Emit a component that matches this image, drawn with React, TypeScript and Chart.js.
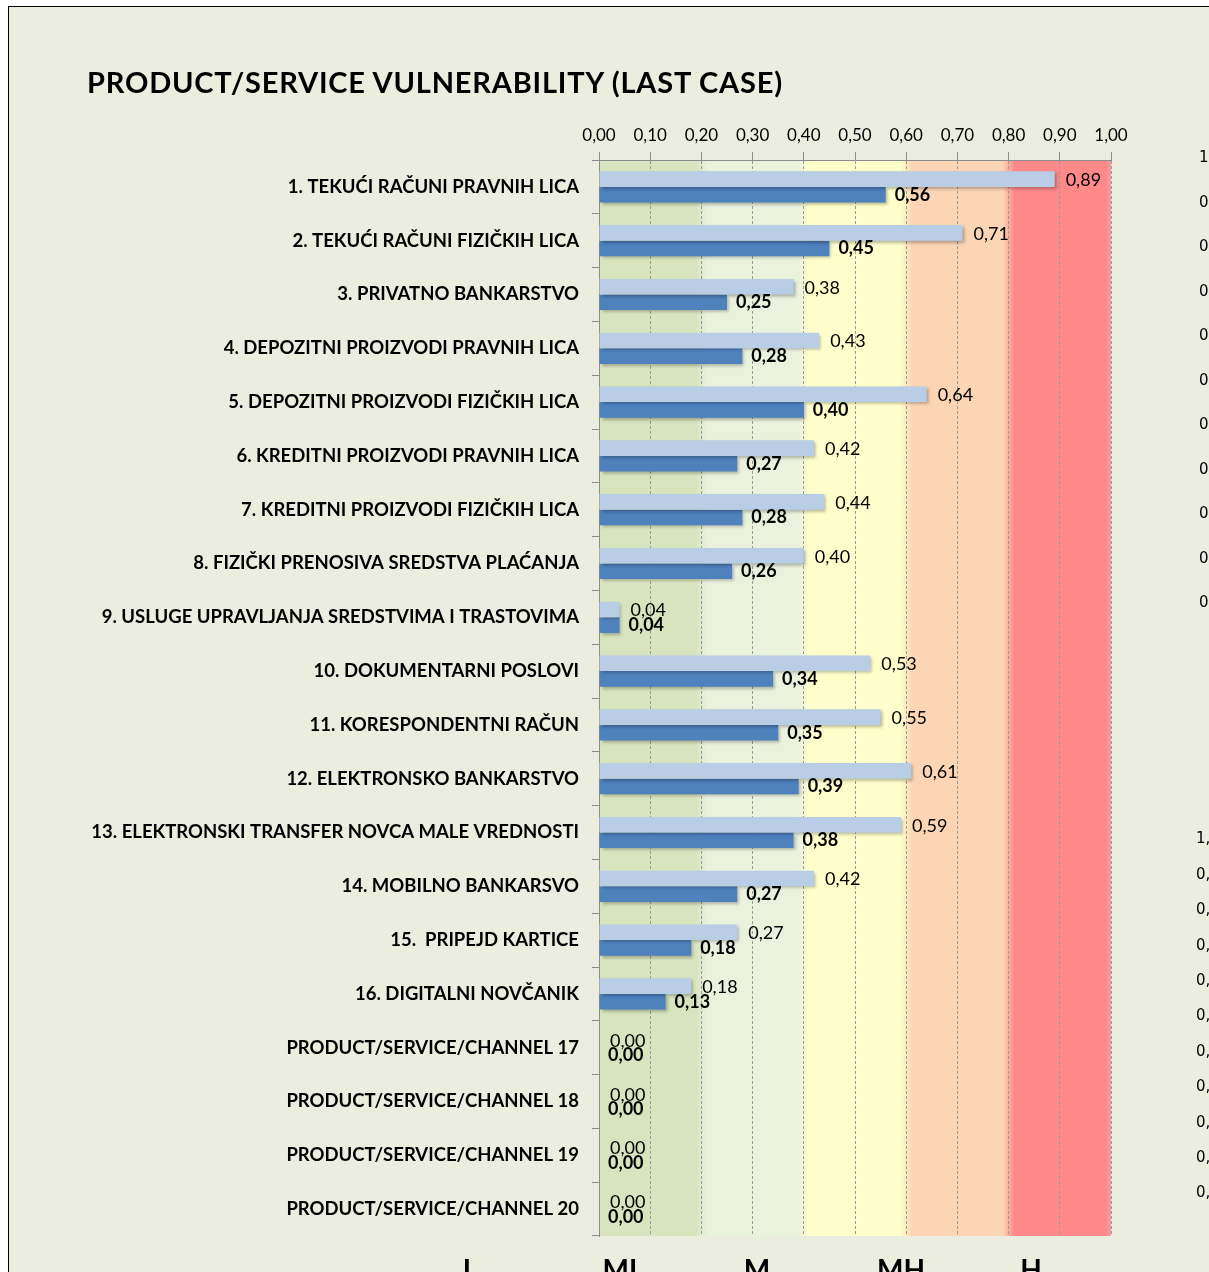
import React, { useEffect, useRef } from "react";
import { Chart, registerables } from "chart.js";

Chart.register(...registerables);

const W = 1209;
const H = 1272;

const titleText = "PRODUCT/SERVICE VULNERABILITY (LAST CASE)";

const categories = [
  "1. TEKUĆI RAČUNI PRAVNIH LICA",
  "2. TEKUĆI RAČUNI FIZIČKIH LICA",
  "3. PRIVATNO BANKARSTVO",
  "4. DEPOZITNI PROIZVODI PRAVNIH LICA",
  "5. DEPOZITNI PROIZVODI FIZIČKIH LICA",
  "6. KREDITNI PROIZVODI PRAVNIH LICA",
  "7. KREDITNI PROIZVODI FIZIČKIH LICA",
  "8. FIZIČKI PRENOSIVA SREDSTVA PLAĆANJA",
  "9. USLUGE UPRAVLJANJA SREDSTVIMA I TRASTOVIMA",
  "10. DOKUMENTARNI POSLOVI",
  "11. KORESPONDENTNI RAČUN",
  "12. ELEKTRONSKO BANKARSTVO",
  "13. ELEKTRONSKI TRANSFER NOVCA MALE VREDNOSTI",
  "14. MOBILNO BANKARSVO",
  "15.  PRIPEJD KARTICE",
  "16. DIGITALNI NOVČANIK",
  "PRODUCT/SERVICE/CHANNEL 17",
  "PRODUCT/SERVICE/CHANNEL 18",
  "PRODUCT/SERVICE/CHANNEL 19",
  "PRODUCT/SERVICE/CHANNEL 20",
];

const lastCaseValues = [
  0.89, 0.71, 0.38, 0.43, 0.64, 0.42, 0.44, 0.4, 0.04, 0.53, 0.55, 0.61, 0.59,
  0.42, 0.27, 0.18, 0, 0, 0, 0,
];

const residualValues = [
  0.56, 0.45, 0.25, 0.28, 0.4, 0.27, 0.28, 0.26, 0.04, 0.34, 0.35, 0.39, 0.38,
  0.27, 0.18, 0.13, 0, 0, 0, 0,
];

const bandEdges = [0, 0.2, 0.4, 0.6, 0.8, 1.0];
const bandColors = ["#D7E4BD", "#EAF1DD", "#FFFFCC", "#FCD5B5", "#FF8888"];
const bandLabels = ["L", "ML", "M", "MH", "H"];
const bandLabelCenters = [470, 623, 757, 901, 1031];

const rightUpperTicks = ["1,00", "0,90", "0,80", "0,70", "0,60", "0,50", "0,40", "0,30", "0,20", "0,10", "0,00"];
const rightLowerTicks = ["1,00", "0,90", "0,80", "0,70", "0,60", "0,50", "0,40", "0,30", "0,20", "0,10", "0,00"];

const BG = "#EBEEDF";
const LIGHT = "#B9CDE5";
const DARK = "#4F81BD";
const AXIS = "#8C8C8C";

const fmt = (v: number) => v.toFixed(2).replace(".", ",");

const decorPlugin = {
  id: "decor",
  beforeDraw(chart: any) {
    const { ctx, chartArea, scales } = chart;
    const xs = scales.x;
    const top = chartArea.top;
    const h = chartArea.bottom - chartArea.top;
    ctx.save();
    const px = bandEdges.map((e) => xs.getPixelForValue(e));
    for (let i = 0; i < bandColors.length; i++) {
      ctx.fillStyle = bandColors[i];
      ctx.fillRect(px[i], top, px[i + 1] - px[i], h);
    }
    for (let i = 1; i < bandColors.length; i++) {
      const xb = px[i];
      const g = ctx.createLinearGradient(xb - 6, 0, xb + 6, 0);
      g.addColorStop(0, bandColors[i - 1]);
      g.addColorStop(1, bandColors[i]);
      ctx.fillStyle = g;
      ctx.fillRect(xb - 6, top, 12, h);
    }
    const xe = px[px.length - 1];
    const g2 = ctx.createLinearGradient(xe - 6, 0, xe, 0);
    g2.addColorStop(0, "#FF8888");
    g2.addColorStop(1, "#E8A2A8");
    ctx.fillStyle = g2;
    ctx.fillRect(xe - 6, top, 6, h);
    ctx.restore();
  },
  beforeDatasetsDraw(chart: any) {
    const ctx = chart.ctx;
    ctx.save();
    ctx.shadowColor = "rgba(0,0,0,0.28)";
    ctx.shadowBlur = 3;
    ctx.shadowOffsetX = 2;
    ctx.shadowOffsetY = 2;
  },
  afterDatasetsDraw(chart: any) {
    const ctx = chart.ctx;
    ctx.restore();
    ctx.save();
    chart.data.datasets.forEach((ds: any, di: number) => {
      const meta = chart.getDatasetMeta(di);
      meta.data.forEach((el: any, i: number) => {
        const v = ds.data[i] as number;
        const { x, y } = el.getProps(["x", "y"], true);
        ctx.font = di === 0 ? "18px Lato" : "bold 18px Lato";
        ctx.textBaseline = "middle";
        ctx.textAlign = "left";
        ctx.fillStyle = "#000";
        ctx.fillText(fmt(v), x + (di === 0 ? 11 : 9), y + (di === 0 ? 1 : 0));
      });
    });
    ctx.restore();
  },
};

export default function App() {
  const ref = useRef<HTMLCanvasElement>(null);

  useEffect(() => {
    if (!ref.current) return;
    const chart = new Chart(ref.current, {
      type: "bar",
      data: {
        labels: categories,
        datasets: [
          {
            label: "Last case",
            data: lastCaseValues,
            backgroundColor: LIGHT,
            borderWidth: 0,
          },
          {
            label: "Residual",
            data: residualValues,
            backgroundColor: DARK,
            borderWidth: 0,
          },
        ],
      },
      options: {
        animation: false,
        responsive: false,
        devicePixelRatio: 1,
        indexAxis: "y",
        layout: { padding: { left: 0, right: 98, top: 100, bottom: 36 } },
        datasets: { bar: { categoryPercentage: 0.58, barPercentage: 1 } },
        plugins: {
          legend: { display: false },
          tooltip: { enabled: false },
          title: { display: false },
        },
        scales: {
          x: {
            type: "linear",
            position: "top",
            min: 0,
            max: 1,
            afterFit: (s: any) => {
              s.height = 60;
            },
            ticks: {
              stepSize: 0.1,
              autoSkip: false,
              maxRotation: 0,
              padding: 6,
              color: "#000",
              font: { family: "Lato", size: 17 },
              callback: (v: any) => fmt(Number(v)),
            },
            grid: {
              color: "#9A9A9A",
              lineWidth: 1,
              tickLength: 8,
              tickColor: AXIS,
              drawTicks: true,
            },
            border: { display: true, color: AXIS, width: 1, dash: [3, 2] },
          },
          y: {
            type: "category",
            afterFit: (s: any) => {
              s.width = 599;
            },
            ticks: {
              autoSkip: false,
              padding: 13,
              color: "#000",
              font: { family: "Lato", size: 18.5, weight: "bold" },
            },
            grid: {
              drawOnChartArea: false,
              offset: true,
              tickLength: 7,
              tickColor: AXIS,
            },
            border: { display: true, color: AXIS, width: 1 },
          },
        },
      } as any,
      plugins: [decorPlugin],
    });
    return () => chart.destroy();
  }, []);

  return (
    <div
      style={{
        position: "absolute",
        left: 0,
        top: 0,
        width: W,
        height: H,
        overflow: "hidden",
        background: "#fff",
      }}
    >
      <div
        style={{
          position: "absolute",
          left: 8,
          top: 6,
          width: W + 50,
          height: H + 50,
          border: "1px solid #000",
          background: BG,
        }}
      />
      <canvas
        ref={ref}
        width={W}
        height={H}
        style={{ position: "absolute", left: 0, top: 0, width: W, height: H }}
      />
      <div
        style={{
          position: "absolute",
          left: 87,
          top: 67,
          font: "bold 29px Lato",
          lineHeight: "29px",
          letterSpacing: "0.8px",
          whiteSpace: "nowrap",
          color: "#000",
        }}
      >
        {titleText}
      </div>
      {bandLabels.map((t, i) => (
        <div
          key={t}
          style={{
            position: "absolute",
            left: bandLabelCenters[i] - 50,
            width: 100,
            top: 1255,
            textAlign: "center",
            font: "bold 28px Lato",
            lineHeight: "28px",
            color: "#000",
          }}
        >
          {t}
        </div>
      ))}
      {rightUpperTicks.map((t, i) => (
        <div
          key={"u" + i}
          style={{
            position: "absolute",
            left: 1199,
            top: 157.5 + i * 44.5 - 7.2,
            font: "15px 'DejaVu Sans'",
            lineHeight: "15px",
            whiteSpace: "nowrap",
            color: "#000",
          }}
        >
          {t}
        </div>
      ))}
      {rightLowerTicks.map((t, i) => (
        <div
          key={"l" + i}
          style={{
            position: "absolute",
            left: 1196,
            top: 838.5 + i * 35.4 - 7.2,
            font: "15px 'DejaVu Sans'",
            lineHeight: "15px",
            whiteSpace: "nowrap",
            color: "#000",
          }}
        >
          {t}
        </div>
      ))}
    </div>
  );
}
